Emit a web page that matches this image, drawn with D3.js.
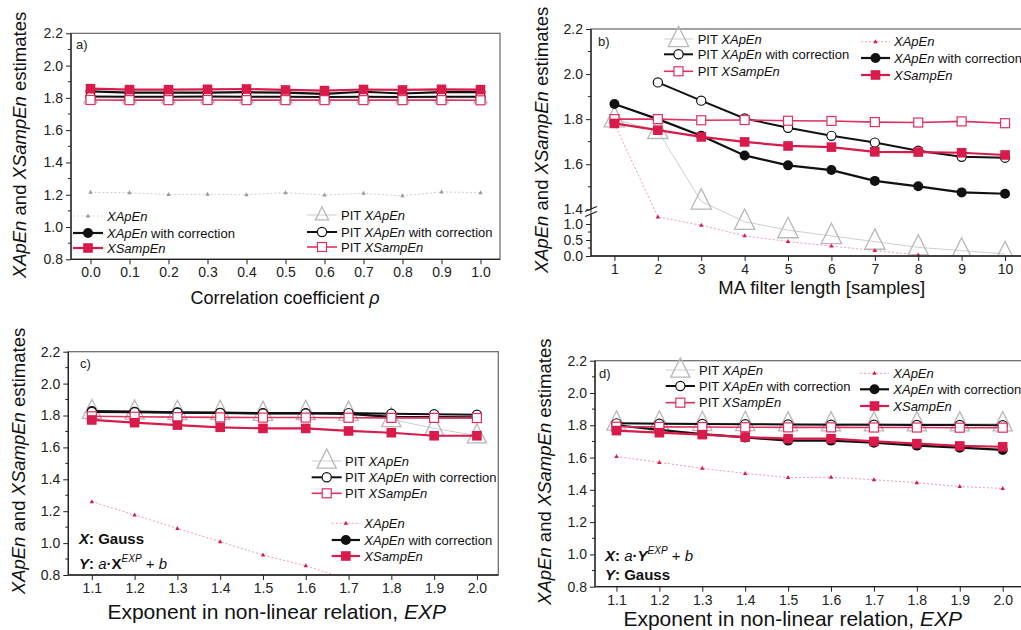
<!DOCTYPE html>
<html>
<head>
<meta charset="utf-8">
<script src="https://cdn.jsdelivr.net/npm/d3@7"></script>
<style>
body { margin: 0; background: #fff; }
svg { font-family: "Liberation Sans", Arial, sans-serif; }
</style>
</head>
<body>
<div id="chart"></div>
<script>
// ---- panel a: correlation coefficient
var rhoValues = [0, 0.1, 0.2, 0.3, 0.4, 0.5, 0.6, 0.7, 0.8, 0.9, 1.0];
var aPitApEn     = [1.80, 1.80, 1.80, 1.80, 1.80, 1.80, 1.80, 1.80, 1.80, 1.80, 1.80];
var aApEn        = [1.215, 1.213, 1.201, 1.203, 1.200, 1.213, 1.198, 1.209, 1.193, 1.217, 1.213];
var aPitApEnCorr = [1.808, 1.807, 1.807, 1.808, 1.807, 1.807, 1.806, 1.807, 1.806, 1.807, 1.807];
var aPitSampEn   = [1.787, 1.786, 1.786, 1.787, 1.786, 1.786, 1.786, 1.786, 1.786, 1.786, 1.785];
var aApEnCorr    = [1.840, 1.832, 1.832, 1.833, 1.835, 1.832, 1.825, 1.838, 1.827, 1.836, 1.836];
var aSampEn      = [1.857, 1.851, 1.851, 1.853, 1.855, 1.849, 1.845, 1.852, 1.849, 1.853, 1.851];

// ---- panel b: MA filter length
var maLength = [1, 2, 3, 4, 5, 6, 7, 8, 9, 10];
var bPitApEn     = [1.80, 1.748, 1.435, 1.07, 0.81, 0.625, 0.45, 0.27, 0.17, 0.06];
var bApEn        = [1.78, 1.22, 0.96, 0.63, 0.45, 0.31, 0.17, 0.03, null, null];
var bPitApEnCorr = [null, 1.963, 1.882, 1.803, 1.762, 1.726, 1.696, 1.660, 1.633, 1.629];
var bPitSampEn   = [1.80, 1.80, 1.795, 1.796, 1.793, 1.792, 1.787, 1.785, 1.79, 1.782];
var bApEnCorr    = [1.867, 1.80, 1.726, 1.639, 1.595, 1.574, 1.526, 1.502, 1.475, 1.469];
var bSampEn      = [1.781, 1.751, 1.721, 1.699, 1.681, 1.676, 1.655, 1.654, 1.651, 1.641];

// ---- panels c, d: exponent
var expValues = [1.1, 1.2, 1.3, 1.4, 1.5, 1.6, 1.7, 1.8, 1.9, 2.0];
var cPitApEn     = [1.825, 1.822, 1.82, 1.82, 1.815, 1.82, 1.815, 1.775, 1.72, 1.673];
var cApEn        = [1.26, 1.176, 1.092, 1.009, 0.925, 0.858, 0.77, 0.70, 0.63, 0.56];
var cPitApEnCorr = [1.822, 1.82, 1.817, 1.815, 1.812, 1.812, 1.815, 1.811, 1.808, 1.805];
var cPitSampEn   = [1.795, 1.792, 1.79, 1.788, 1.787, 1.787, 1.786, 1.785, 1.785, 1.784];
var cApEnCorr    = [1.828, 1.824, 1.82, 1.818, 1.815, 1.815, 1.81, 1.792, 1.79, 1.788];
var cSampEn      = [1.772, 1.755, 1.74, 1.726, 1.719, 1.719, 1.703, 1.692, 1.673, 1.673];

var dPitApEn     = [1.815, 1.815, 1.812, 1.812, 1.81, 1.81, 1.81, 1.81, 1.81, 1.81];
var dApEn        = [1.606, 1.57, 1.533, 1.502, 1.476, 1.478, 1.463, 1.444, 1.42, 1.409];
var dPitApEnCorr = [1.812, 1.81, 1.808, 1.807, 1.805, 1.804, 1.803, 1.802, 1.802, 1.80];
var dPitSampEn   = [1.791, 1.79, 1.789, 1.788, 1.787, 1.787, 1.786, 1.786, 1.785, 1.785];
var dApEnCorr    = [1.80, 1.771, 1.746, 1.725, 1.705, 1.705, 1.692, 1.674, 1.661, 1.647];
var dSampEn      = [1.767, 1.754, 1.742, 1.727, 1.717, 1.717, 1.70, 1.686, 1.672, 1.667];

// legend labels: [text, italic]
var labPitApEn     = [["PIT ", 0], ["XApEn", 1]];
var labPitApEnCorr = [["PIT ", 0], ["XApEn", 1], [" with correction", 0]];
var labPitSampEn   = [["PIT ", 0], ["XSampEn", 1]];
var labApEn        = [["XApEn", 1]];
var labApEnCorr    = [["XApEn", 1], [" with correction", 0]];
var labSampEn      = [["XSampEn", 1]];
var yTitle = [["XApEn", 1], [" and ", 0], ["XSampEn", 1], [" estimates", 0]];

var red = "#d81b4a";
var styles = {
    pitApEn:     { line: "#cfcfcf", lw: 1,   marker: "triBig" },
    apEn:        { line: "#f29bb0", lw: 1,   dash: "2,2", marker: "triSmall", color: red },
    pitApEnCorr: { line: "#111",    lw: 2,   marker: "circleOpen" },
    pitSampEn:   { line: "#e2305e", lw: 1.6, marker: "squareOpen" },
    apEnCorr:    { line: "#111",    lw: 2.2, marker: "circleFilled" },
    sampEn:      { line: red,       lw: 2.2, marker: "squareFilled" }
};

var svg = d3.select("#chart").append("svg")
    .attr("width", 1021)
    .attr("height", 630);

function richText(t, parts) {
    parts.forEach(function(p) {
        t.append("tspan").style("font-style", p[1] ? "italic" : "normal").text(p[0]);
    });
}

function drawMarker(g, type, x, y, color, triSize) {
    if (type == "triBig") {
        var s = triSize;
        g.append("path")
            .attr("d", "M" + x + "," + (y - s * 0.75) + "L" + (x + s * 0.6) + "," + (y + s * 0.45) +
                       "L" + (x - s * 0.6) + "," + (y + s * 0.45) + "Z")
            .attr("fill", "none").attr("stroke", "#b8b8b8").attr("stroke-width", 1.3);
    } else if (type == "triSmall") {
        g.append("path")
            .attr("d", "M" + x + "," + (y - 2.5) + "L" + (x + 2.2) + "," + (y + 1.5) + "L" + (x - 2.2) + "," + (y + 1.5) + "Z")
            .attr("fill", color);
    } else if (type == "circleOpen") {
        g.append("circle").attr("cx", x).attr("cy", y).attr("r", 4.6)
            .attr("fill", "#fff").attr("stroke", "#111").attr("stroke-width", 1.2);
    } else if (type == "circleFilled") {
        g.append("circle").attr("cx", x).attr("cy", y).attr("r", 5).attr("fill", "#111");
    } else if (type == "squareOpen") {
        g.append("rect").attr("x", x - 4.5).attr("y", y - 4.5).attr("width", 9).attr("height", 9)
            .attr("fill", "#fff").attr("stroke", "#e2305e").attr("stroke-width", 1.2);
    } else if (type == "squareFilled") {
        g.append("rect").attr("x", x - 4.8).attr("y", y - 4.8).attr("width", 9.6).attr("height", 9.6)
            .attr("fill", red);
    }
}

function drawPanel(p) {
    var g = svg.append("g");
    var x = d3.scaleLinear().domain(p.xDomain).range([p.left, p.right]);
    var y = p.y;

    var clipId = "clip" + p.name;
    svg.append("clipPath").attr("id", clipId).append("rect")
        .attr("x", p.left).attr("y", p.top)
        .attr("width", p.right - p.left).attr("height", p.bottom - p.top);

    // frame
    g.append("rect")
        .attr("x", p.left).attr("y", p.top)
        .attr("width", p.right - p.left).attr("height", p.bottom - p.top)
        .attr("fill", "none").attr("stroke", "#666").attr("stroke-width", 1.2);

    // series
    var plot = g.append("g").attr("clip-path", "url(#" + clipId + ")");
    p.series.forEach(function(s) {
        var st = styles[s.key];
        var pts = p.xs.map(function(v, i) { return [v, s.values[i]]; });
        var line = d3.line()
            .defined(function(d) { return d[1] != null; })
            .x(function(d) { return x(d[0]); })
            .y(function(d) { return y(d[1]); });
        plot.append("path")
            .datum(pts)
            .attr("d", line)
            .attr("fill", "none")
            .attr("stroke", s.color ? "#cfcfcf" : st.line)
            .attr("stroke-width", st.lw)
            .attr("stroke-dasharray", st.dash || null);
        pts.forEach(function(d) {
            if (d[1] == null) return;
            drawMarker(plot, st.marker, x(d[0]), y(d[1]), s.color || st.color, p.tri);
        });
    });

    // x axis
    var xAxis = d3.axisBottom(x).tickValues(p.xs).tickFormat(p.xFormat)
        .tickSize(5).tickSizeOuter(0);
    var gx = g.append("g")
        .attr("transform", "translate(0," + p.bottom + ")")
        .call(xAxis);
    gx.select(".domain").attr("d", "M" + p.left + ",0H" + p.right).attr("stroke", "#222").attr("stroke-width", 1.3);

    // y axis
    var yAxis = d3.axisLeft(y).tickValues(p.yTicks).tickFormat(d3.format(".1f"))
        .tickSize(5).tickSizeOuter(0);
    var gy = g.append("g")
        .attr("transform", "translate(" + p.left + ",0)")
        .call(yAxis);
    gy.select(".domain").remove();
    p.yMinor.forEach(function(v) {
        gy.append("line").attr("x1", -3).attr("x2", 0).attr("y1", y(v)).attr("y2", y(v)).attr("stroke", "#222");
    });
    p.ySegments.forEach(function(seg) {
        gy.append("line").attr("x1", 0).attr("x2", 0).attr("y1", seg[0]).attr("y2", seg[1])
            .attr("stroke", "#222").attr("stroke-width", 1.3);
    });
    [gx, gy].forEach(function(a) {
        a.selectAll("text").attr("font-size", 14).attr("fill", "#222")
            .attr("font-family", "Liberation Sans, Arial, sans-serif");
        a.selectAll(".tick line").attr("stroke", "#222");
    });

    // axis titles
    var yt = g.append("text")
        .attr("transform", "translate(" + p.yTitle[0] + "," + p.yTitle[1] + ") rotate(-90)")
        .attr("text-anchor", "middle").attr("dy", "0.35em")
        .attr("font-size", 18.5).attr("fill", "#111");
    richText(yt, yTitle);
    var xt = g.append("text")
        .attr("x", p.xTitle[0]).attr("y", p.xTitle[1])
        .attr("text-anchor", "middle").attr("dy", "0.35em")
        .attr("font-size", p.xTitleSize).attr("fill", "#111");
    richText(xt, p.xTitleParts);

    // panel label
    g.append("text").attr("x", p.label[0]).attr("y", p.label[1]).attr("dy", "0.35em")
        .attr("font-size", 13).attr("fill", "#222").text(p.name + ")");

    // legends
    p.legends.forEach(function(lg) {
        lg.items.forEach(function(it, i) {
            var st = styles[it.key];
            var ly = lg.ys[i];
            var mid = (lg.x1 + lg.x2) / 2;
            g.append("line").attr("x1", lg.x1).attr("x2", lg.x2).attr("y1", ly).attr("y2", ly)
                .attr("stroke", it.color ? "#d8d8d8" : st.line).attr("stroke-width", st.lw)
                .attr("stroke-dasharray", st.dash || null);
            drawMarker(g, st.marker, mid, ly, it.color || st.color, p.tri);
            var t = g.append("text").attr("x", lg.tx).attr("y", ly).attr("dy", "0.35em")
                .attr("font-size", 13).attr("fill", "#111");
            richText(t, it.label);
        });
    });
    return g;
}

function seriesList(pit, apEn, pitCorr, pitSamp, corr, samp, apColor) {
    return [
        { key: "pitApEn", values: pit },
        { key: "apEn", values: apEn, color: apColor },
        { key: "apEnCorr", values: corr },
        { key: "pitApEnCorr", values: pitCorr },
        { key: "pitSampEn", values: pitSamp },
        { key: "sampEn", values: samp }
    ];
}

var fmt1 = d3.format(".1f");
var expTitle = [["Exponent in non-linear relation, ", 0], ["EXP", 1]];

// panel a
drawPanel({
    name: "a", left: 71, right: 500, top: 33.3, bottom: 259.3,
    xDomain: [-0.05, 1.05], xs: rhoValues, xFormat: fmt1,
    y: d3.scaleLinear().domain([0.8, 2.2]).range([259.3, 33.3]),
    yTicks: [0.8, 1.0, 1.2, 1.4, 1.6, 1.8, 2.0, 2.2],
    yMinor: [0.9, 1.1, 1.3, 1.5, 1.7, 1.9, 2.1],
    ySegments: [[33.3, 259.3]],
    tri: 11,
    series: seriesList(aPitApEn, aApEn, aPitApEnCorr, aPitSampEn, aApEnCorr, aSampEn, "#999"),
    yTitle: [20, 145], xTitle: [285, 298], xTitleSize: 18, label: [76, 44],
    xTitleParts: [["Correlation coefficient ", 0], ["\u03C1", 1]],
    legends: [
        { x1: 73, x2: 103, tx: 107, ys: [216, 233, 248],
          items: [{ key: "apEn", label: labApEn, color: "#999" }, { key: "apEnCorr", label: labApEnCorr }, { key: "sampEn", label: labSampEn }] },
        { x1: 307, x2: 337, tx: 341, ys: [215, 232, 247],
          items: [{ key: "pitApEn", label: labPitApEn }, { key: "pitApEnCorr", label: labPitApEnCorr }, { key: "pitSampEn", label: labPitSampEn }] }
    ]
});

// panel b (broken y axis)
var gB = drawPanel({
    name: "b", left: 591, right: 1025, top: 29, bottom: 256,
    xDomain: [0.46, 10.46], xs: maLength, xFormat: d3.format("d"),
    y: d3.scaleLinear().domain([0, 1.25, 1.4, 2.2]).range([256, 216, 209.3, 29]),
    yTicks: [0, 0.5, 1.0, 1.4, 1.6, 1.8, 2.0, 2.2],
    yMinor: [0.25, 0.75, 1.5, 1.7, 1.9, 2.1],
    ySegments: [[29, 209.5], [214.5, 256]],
    tri: 17,
    series: seriesList(bPitApEn, bApEn, bPitApEnCorr, bPitSampEn, bApEnCorr, bSampEn),
    yTitle: [541.7, 140], xTitle: [821.7, 288], xTitleSize: 18.5, label: [598, 41],
    xTitleParts: [["MA filter length [samples]", 0]],
    legends: [
        { x1: 664, x2: 693, tx: 697.7, ys: [39, 54.3, 71.3],
          items: [{ key: "pitApEn", label: labPitApEn }, { key: "pitApEnCorr", label: labPitApEnCorr }, { key: "pitSampEn", label: labPitSampEn }] },
        { x1: 861, x2: 890, tx: 894, ys: [41.7, 58, 75],
          items: [{ key: "apEn", label: labApEn }, { key: "apEnCorr", label: labApEnCorr }, { key: "sampEn", label: labSampEn }] }
    ]
});
// break marks on the y axis
[209, 214].forEach(function(by) {
    gB.append("line").attr("x1", 585).attr("x2", 597).attr("y1", by + 2.5).attr("y2", by - 2.5)
        .attr("stroke", "#222").attr("stroke-width", 1.2);
});

// panel c
var gC = drawPanel({
    name: "c", left: 68.3, right: 498.3, top: 351.7, bottom: 575,
    xDomain: [1.045, 2.05], xs: expValues, xFormat: fmt1,
    y: d3.scaleLinear().domain([0.8, 2.2]).range([575, 351.7]),
    yTicks: [0.8, 1.0, 1.2, 1.4, 1.6, 1.8, 2.0, 2.2],
    yMinor: [0.9, 1.1, 1.3, 1.5, 1.7, 1.9, 2.1],
    ySegments: [[351.7, 575]],
    tri: 16,
    series: seriesList(cPitApEn, cApEn, cPitApEnCorr, cPitSampEn, cApEnCorr, cSampEn),
    yTitle: [19, 461], xTitle: [276.7, 611.7], xTitleSize: 21, label: [80, 363],
    xTitleParts: expTitle,
    legends: [
        { x1: 311.7, x2: 341.7, tx: 345, ys: [461, 477.3, 493.3],
          items: [{ key: "pitApEn", label: labPitApEn }, { key: "pitApEnCorr", label: labPitApEnCorr }, { key: "pitSampEn", label: labPitSampEn }] },
        { x1: 331.7, x2: 360, tx: 364.3, ys: [523.3, 540, 556],
          items: [{ key: "apEn", label: labApEn }, { key: "apEnCorr", label: labApEnCorr }, { key: "sampEn", label: labSampEn }] }
    ]
});

// panel d
var gD = drawPanel({
    name: "d", left: 595, right: 1025, top: 360.7, bottom: 586.7,
    xDomain: [1.05, 2.052], xs: expValues, xFormat: fmt1,
    y: d3.scaleLinear().domain([0.8, 2.2]).range([586.7, 360.7]),
    yTicks: [0.8, 1.0, 1.2, 1.4, 1.6, 1.8, 2.0, 2.2],
    yMinor: [0.9, 1.1, 1.3, 1.5, 1.7, 1.9, 2.1],
    ySegments: [[360.7, 586.7]],
    tri: 16,
    series: seriesList(dPitApEn, dApEn, dPitApEnCorr, dPitSampEn, dApEnCorr, dSampEn),
    yTitle: [545, 471.7], xTitle: [792.7, 618.3], xTitleSize: 21, label: [599, 373],
    xTitleParts: expTitle,
    legends: [
        { x1: 665.7, x2: 695, tx: 699, ys: [370, 386, 402.7],
          items: [{ key: "pitApEn", label: labPitApEn }, { key: "pitApEnCorr", label: labPitApEnCorr }, { key: "pitSampEn", label: labPitSampEn }] },
        { x1: 860, x2: 889, tx: 893.3, ys: [373.3, 389.3, 406],
          items: [{ key: "apEn", label: labApEn }, { key: "apEnCorr", label: labApEnCorr }, { key: "sampEn", label: labSampEn }] }
    ]
});

// annotations with superscript
function relationText(g, x, y, parts) {
    var t = g.append("text").attr("x", x).attr("y", y).attr("dy", "0.35em")
        .attr("font-size", 15).attr("fill", "#111");
    parts.forEach(function(p) {
        var ts = t.append("tspan").text(p.t)
            .style("font-style", p.i ? "italic" : "normal")
            .style("font-weight", p.b ? "bold" : "normal");
        if (p.sup) ts.attr("font-size", 10).attr("dy", -7);
        if (p.after) ts.attr("dy", 7);
    });
}
relationText(gC, 79, 539, [{ t: "X", b: 1, i: 1 }, { t: ": Gauss", b: 1 }]);
relationText(gC, 79, 564, [{ t: "Y", b: 1, i: 1 }, { t: ": ", b: 1 }, { t: "a", i: 1 }, { t: "\u00B7", b: 1 },
    { t: "X", b: 1 }, { t: "EXP", i: 1, sup: 1 }, { t: " + ", after: 1 }, { t: "b", i: 1 }]);
relationText(gD, 605, 555.7, [{ t: "X", b: 1, i: 1 }, { t: ": ", b: 1 }, { t: "a", i: 1 }, { t: "\u00B7", b: 1 },
    { t: "Y", b: 1, i: 1 }, { t: "EXP", i: 1, sup: 1 }, { t: " + ", after: 1 }, { t: "b", i: 1 }]);
relationText(gD, 605, 575, [{ t: "Y", b: 1, i: 1 }, { t: ": Gauss", b: 1 }]);
</script>
</body>
</html>
